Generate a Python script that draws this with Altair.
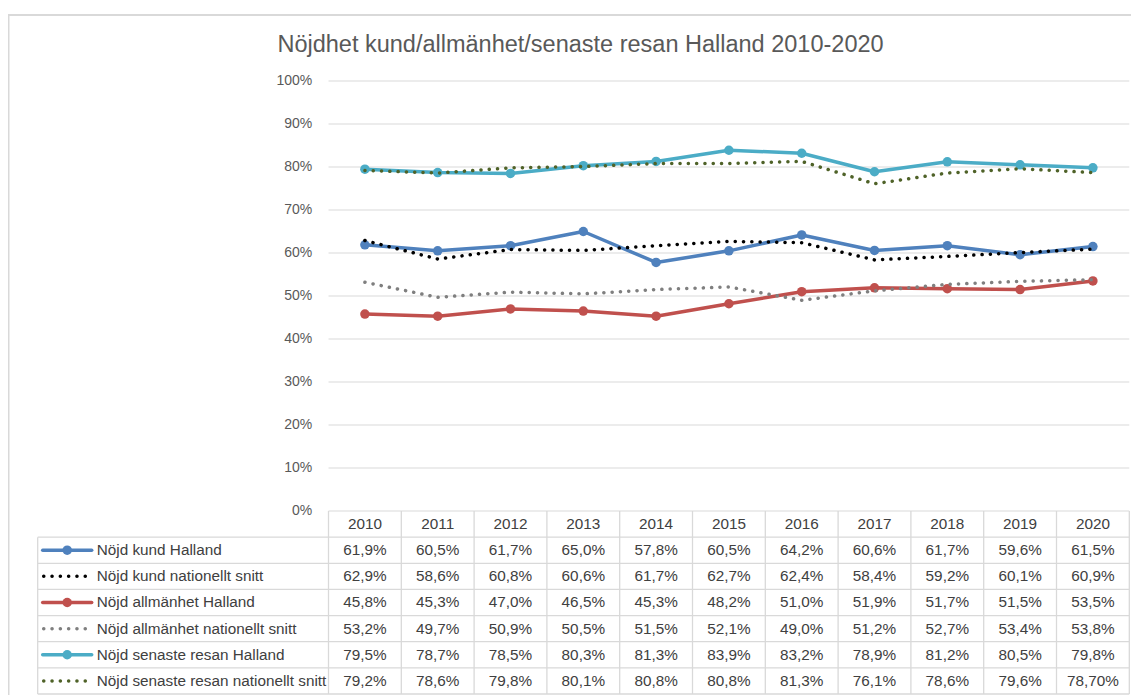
import altair as alt
import pandas as pd

# ---------------- data ----------------
title_text = "Nöjdhet kund/allmänhet/senaste resan Halland 2010-2020"
years = [2010, 2011, 2012, 2013, 2014, 2015, 2016, 2017, 2018, 2019, 2020]
series = [
    "Nöjd kund Halland",
    "Nöjd kund nationellt snitt",
    "Nöjd allmänhet Halland",
    "Nöjd allmänhet nationellt snitt",
    "Nöjd senaste resan Halland",
    "Nöjd senaste resan nationellt snitt",
]
kund_halland = [61.9, 60.5, 61.7, 65.0, 57.8, 60.5, 64.2, 60.6, 61.7, 59.6, 61.5]
kund_nat = [62.9, 58.6, 60.8, 60.6, 61.7, 62.7, 62.4, 58.4, 59.2, 60.1, 60.9]
allm_halland = [45.8, 45.3, 47.0, 46.5, 45.3, 48.2, 51.0, 51.9, 51.7, 51.5, 53.5]
allm_nat = [53.2, 49.7, 50.9, 50.5, 51.5, 52.1, 49.0, 51.2, 52.7, 53.4, 53.8]
resan_halland = [79.5, 78.7, 78.5, 80.3, 81.3, 83.9, 83.2, 78.9, 81.2, 80.5, 79.8]
resan_nat = [79.2, 78.6, 79.8, 80.1, 80.8, 80.8, 81.3, 76.1, 78.6, 79.6, 78.7]
values = [kund_halland, kund_nat, allm_halland, allm_nat, resan_halland, resan_nat]
# the table shows one cell with two decimals
decimals_override = {(5, 10): 2}
y_ticks = [0, 10, 20, 30, 40, 50, 60, 70, 80, 90, 100]
y_tick_labels = ["0%", "10%", "20%", "30%", "40%", "50%", "60%", "70%", "80%", "90%", "100%"]

# ---------------- styles ----------------
colors = ["#4F81BD", "#000000", "#C0504D", "#7F7F7F", "#4BACC6", "#4F6228"]
solid = [True, False, True, False, True, False]
FONT = "Liberation Sans"
GRID = "#d9d9d9"
DOT = [0.1, 8.2]

# ---------------- layout (view pixels) ----------------
W, H = 1123, 683
PAD_TOP = 6
COL_W = 72.8
PLOT_LEFT = 320.5
Y100, Y0 = 67.0, 497.0
ROW_H = 26.14
LABEL_LEFT = 29.7
KEY_X0, KEY_X1, KEY_MID = 34.7, 83.7, 59.2
LABEL_X = 88.7


def px_to_year(px):
    return years[0] - 0.5 + (px - PLOT_LEFT) / COL_W


unit = (Y0 - Y100) / 100.0
x_scale = alt.Scale(domain=[px_to_year(0), px_to_year(W)], nice=False, zero=False)
pct_scale = alt.Scale(domain=[-(H - Y0) / unit, 100 + Y100 / unit], nice=False, zero=False)
row_scale = alt.Scale(domain=[-Y0 / ROW_H - 0.5, (H - Y0) / ROW_H - 0.5],
                      reverse=True, nice=False, zero=False)

x_first = years[0] - 0.5
x_last = years[-1] + 0.5

# ---------------- outer border (top and left edges only) ----------------
frame_df = pd.DataFrame({"k": [0]})
border_top = alt.Chart(frame_df).mark_rule(color=GRID, strokeWidth=2).encode(
    x=alt.value(0), x2=alt.value(W), y=alt.value(1))
border_left = alt.Chart(frame_df).mark_rule(color=GRID, strokeWidth=2).encode(
    x=alt.value(0.5), y=alt.value(0), y2=alt.value(H))

# ---------------- plot part ----------------
grid_df = pd.DataFrame({"v": y_ticks, "label": y_tick_labels,
                        "x0": [x_first] * len(y_ticks), "x1": [x_last] * len(y_ticks)})

grid = alt.Chart(grid_df).mark_rule(color=GRID, strokeWidth=1).encode(
    x=alt.X("x0:Q", scale=x_scale, axis=None), x2="x1:Q",
    y=alt.Y("v:Q", scale=pct_scale, axis=None))

ylabels = alt.Chart(grid_df).mark_text(
    align="right", baseline="middle", dx=-16.3, fontSize=14, color="#595959", font=FONT
).encode(x=alt.X("x0:Q", scale=x_scale, axis=None),
         y=alt.Y("v:Q", scale=pct_scale, axis=None), text="label:N")

plot_layers = [grid, ylabels]
for i, name in enumerate(series):
    df = pd.DataFrame({"year": years, "value": values[i]})
    enc = dict(x=alt.X("year:Q", scale=x_scale, axis=None),
               y=alt.Y("value:Q", scale=pct_scale, axis=None))
    if solid[i]:
        plot_layers.append(alt.Chart(df).mark_line(
            color=colors[i], strokeWidth=3.5, strokeCap="round", strokeJoin="round").encode(**enc))
        plot_layers.append(alt.Chart(df).mark_point(
            filled=True, shape="circle", size=90, color=colors[i], opacity=1).encode(**enc))
    else:
        plot_layers.append(alt.Chart(df).mark_line(
            color=colors[i], strokeWidth=3.5, strokeCap="round", strokeDash=DOT).encode(**enc))

plot_part = alt.layer(*plot_layers)

# ---------------- table part ----------------
n = len(series)
hl_df = pd.DataFrame({"r": [k + 0.5 for k in range(n + 1)],
                      "x0": [px_to_year(LABEL_LEFT)] * (n + 1),
                      "x1": [x_last] * (n + 1)})
vx = [y - 0.5 for y in years] + [x_last]
vl_df = pd.DataFrame({"x": vx + [px_to_year(LABEL_LEFT)],
                      "r0": [-0.5] * len(vx) + [0.5],
                      "r1": [n + 0.5] * (len(vx) + 1)})

hlines = alt.Chart(hl_df).mark_rule(color=GRID, strokeWidth=1.3).encode(
    x=alt.X("x0:Q", scale=x_scale, axis=None), x2="x1:Q",
    y=alt.Y("r:Q", scale=row_scale, axis=None))
vlines = alt.Chart(vl_df).mark_rule(color=GRID, strokeWidth=1.3).encode(
    x=alt.X("x:Q", scale=x_scale, axis=None),
    y=alt.Y("r0:Q", scale=row_scale, axis=None), y2="r1:Q")

head_df = pd.DataFrame({"year": years, "r": [0] * len(years), "t": [str(y) for y in years]})
rows = []
for i, name in enumerate(series):
    for j, y in enumerate(years):
        d = decimals_override.get((i, j), 1)
        txt = f"{values[i][j]:.{d}f}".replace(".", ",") + "%"
        rows.append({"year": y, "r": i + 1, "t": txt})
cell_df = pd.DataFrame(rows)
lab_df = pd.DataFrame({"name": series, "r": list(range(1, n + 1))})

txt_style = dict(baseline="middle", fontSize=15.3, color="#404040", font=FONT)
head = alt.Chart(head_df).mark_text(align="center", **txt_style).encode(
    x=alt.X("year:Q", scale=x_scale, axis=None),
    y=alt.Y("r:Q", scale=row_scale, axis=None), text="t:N")
cells = alt.Chart(cell_df).mark_text(align="center", **txt_style).encode(
    x=alt.X("year:Q", scale=x_scale, axis=None),
    y=alt.Y("r:Q", scale=row_scale, axis=None), text="t:N")
labels = alt.Chart(lab_df).mark_text(align="left", **txt_style).encode(
    x=alt.value(LABEL_X), y=alt.Y("r:Q", scale=row_scale, axis=None), text="name:N")

table_layers = [hlines, vlines, head, cells, labels]
for i, name in enumerate(series):
    kdf = pd.DataFrame({"r": [i + 1]})
    kenc = dict(y=alt.Y("r:Q", scale=row_scale, axis=None))
    if solid[i]:
        table_layers.append(alt.Chart(kdf).mark_rule(
            color=colors[i], strokeWidth=3.5, strokeCap="round").encode(
            x=alt.value(KEY_X0), x2=alt.value(KEY_X1), **kenc))
        table_layers.append(alt.Chart(kdf).mark_point(
            filled=True, shape="circle", size=90, color=colors[i], opacity=1).encode(
            x=alt.value(KEY_MID), **kenc))
    else:
        table_layers.append(alt.Chart(kdf).mark_rule(
            color=colors[i], strokeWidth=3.5, strokeCap="round", strokeDash=DOT).encode(
            x=alt.value(KEY_X0 + 1), x2=alt.value(KEY_X1), **kenc))

table_part = alt.layer(*table_layers)

# ---------------- title ----------------
title_mark = alt.Chart(pd.DataFrame({"t": [title_text]})).mark_text(
    align="center", baseline="alphabetic", fontSize=23.5, color="#595959", font=FONT
).encode(x=alt.value(572.5), y=alt.value(37.7), text="t:N")

chart = alt.layer(border_top, border_left, plot_part, table_part, title_mark).resolve_scale(
    y="independent"
).properties(
    width=W, height=H,
    autosize=alt.AutoSizeParams(type="none"),
    padding={"left": 0, "top": PAD_TOP, "right": 0, "bottom": 0},
    background="white",
).configure_view(stroke=None)

chart.save("out.html", embed_options={"renderer": "svg", "actions": False})
